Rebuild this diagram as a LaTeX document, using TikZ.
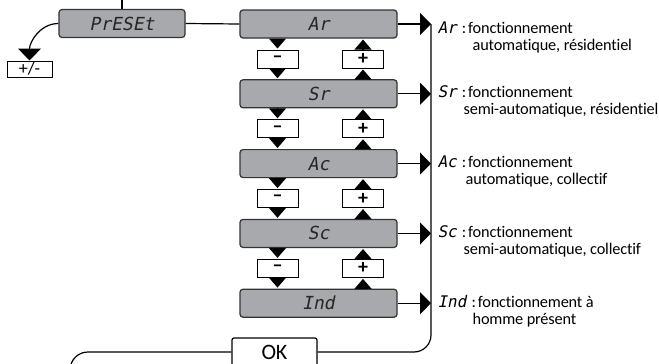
\documentclass[tikz,border=0pt]{standalone}
\usepackage{fontspec}
\setmainfont[LetterSpace=-1, Ligatures=CommonOff]{Carlito}
\newfontfamily\segfont[FakeSlant=0.2]{DejaVu Sans Mono}
\usetikzlibrary{arrows.meta}
\definecolor{lcdgray}{HTML}{A7A9AC}

\begin{document}
\begin{tikzpicture}[x=1pt, y=-1pt, line width=1.2pt,
    lcd/.style={draw=black!80, fill=lcdgray, rounded corners=3pt, minimum width=157pt, minimum height=28pt, inner sep=0pt, font=\segfont\fontsize{18}{18}\selectfont, text=black!85},
    key/.style={draw, fill=white, line width=1pt, minimum width=41pt, minimum height=18pt, inner sep=0pt, font=\bfseries\fontsize{20}{20}\selectfont},
    tri/.style={-{Triangle[width=17pt,length=10pt]}, shorten >=1pt},
    bigtri/.style={-{Triangle[width=22pt,length=11pt]}},
    desc/.style={anchor=base west, inner sep=0pt, font=\fontsize{16.3}{16.3}\selectfont}]
  \clip (0,0) rectangle (659,364);

  % preset menu
  \node[lcd, minimum width=126pt] (pre) at (122,23.5) {PrESEt};
  \coordinate (top) at (122,-5);
  \draw (top) -- (pre.north);
  \node[key, minimum width=45pt, minimum height=16pt, font=\fontsize{18}{18}\selectfont] (pm) at (29.5,69) {+/-};
  \draw[-{Triangle[width=23pt,length=12pt]}] (pre.west) to[out=180, in=90] (pm.north);

  % the five modes
  \foreach \i/\code in {0/Ar, 1/Sr, 2/Ac, 3/Sc, 4/Ind}
  {
    \pgfmathsetmacro\y{24+69.8*\i}
    \node[lcd] (m\i) at (318.5,\y) {\code};
    \coordinate (b\i) at (431,\y);
    \draw[bigtri] (m\i.east) -- (b\i);
  }
  \draw (pre.east) -- (m0.west);

  % minus / plus keys
  \foreach \i [evaluate=\i as \j using int(\i+1)] in {0,1,2,3}
  {
    \pgfmathsetmacro\y{59+69.8*\i}
    \node[key] (minus\i) at (277.5,\y) {–};
    \node[key] (plus\i) at (363,\y) {+};
    \draw[tri] (m\i.south -| minus\i.north) -- (minus\i.north);
    \draw[tri] (minus\i.south) -- (minus\i.south |- m\j.north);
    \draw[tri] (m\j.north -| plus\i.south) -- (plus\i.south);
    \draw[tri] (plus\i.north) -- (plus\i.north |- m\i.south);
  }

  % descriptions
  \foreach \i/\code/\first/\second/\x/\dy in {0/Ar/fonctionnement/{automatique, résidentiel}/472/9,
      1/Sr/fonctionnement/{semi-automatique, résidentiel}/463/4,
      2/Ac/fonctionnement/{automatique, collectif}/465/4,
      3/Sc/fonctionnement/{semi-automatique, collectif}/463/4,
      4/Ind/fonctionnement à/homme présent/472/4}
  {
    \pgfmathsetmacro\y{24+69.8*\i+\dy}
    \node[desc] (d\i) at (437,\y) {{\segfont\fontsize{16}{16}\selectfont\code}\hspace{5pt}:\hspace{2pt}\first};
    \node[desc] (e\i) at (\x,\y+17) {\second};
  }

  % validation
  \node[draw, fill=white, rounded corners=2pt, minimum width=85pt, minimum height=28pt, inner sep=0pt, font=\fontsize{22}{22}\selectfont] (ok) at (274.5,352) {OK};
  \coordinate (back) at (70,400);
  \draw[rounded corners=17pt] (b0) -- (431,352) -- (ok.east);
  \draw[rounded corners=18pt] (ok.west) -- (70,352) -- (back);
\end{tikzpicture}
\end{document}
